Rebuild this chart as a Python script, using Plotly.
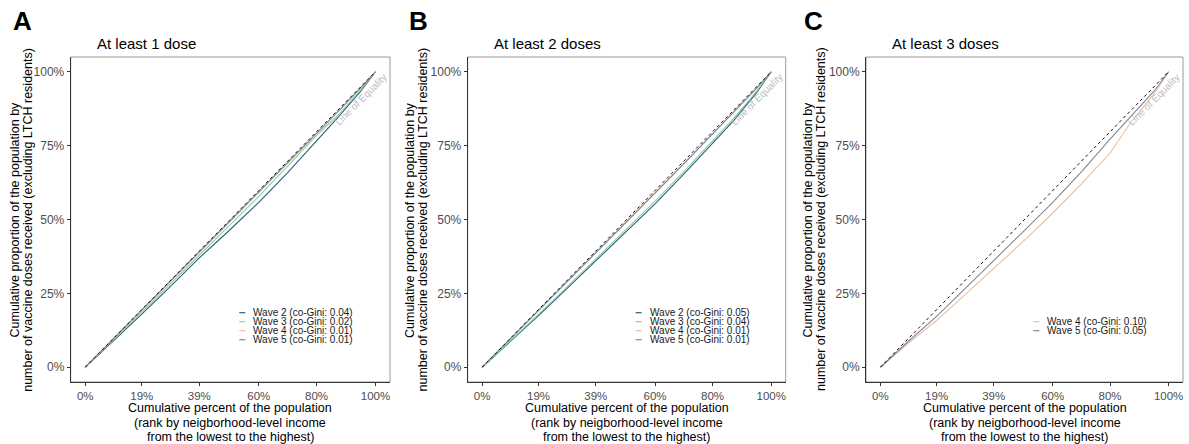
import plotly.graph_objects as go

# ---------------- data ----------------
x_pop = [0, 0.097, 0.195, 0.293, 0.393, 0.495, 0.598, 0.699, 0.797, 0.87, 0.95, 1.0]

a_wave2 = [0, 0.088, 0.180, 0.273, 0.370, 0.462, 0.558, 0.660, 0.765, 0.845, 0.935, 1.0]
a_wave3 = [0, 0.092, 0.186, 0.282, 0.380, 0.478, 0.578, 0.682, 0.785, 0.852, 0.940, 1.0]
a_wave4 = [0, 0.095, 0.192, 0.289, 0.388, 0.489, 0.591, 0.692, 0.791, 0.865, 0.947, 1.0]
a_wave5 = [0, 0.096, 0.193, 0.290, 0.389, 0.490, 0.592, 0.693, 0.791, 0.864, 0.946, 1.0]

b_wave2 = [0, 0.086, 0.175, 0.266, 0.360, 0.455, 0.553, 0.655, 0.758, 0.835, 0.930, 1.0]
b_wave3 = [0, 0.088, 0.179, 0.271, 0.366, 0.462, 0.562, 0.664, 0.768, 0.842, 0.935, 1.0]
b_wave4 = [0, 0.095, 0.192, 0.289, 0.388, 0.489, 0.590, 0.691, 0.790, 0.864, 0.946, 1.0]
b_wave5 = [0, 0.095, 0.191, 0.288, 0.387, 0.488, 0.589, 0.690, 0.789, 0.863, 0.945, 1.0]

c_wave4 = [0, 0.082, 0.158, 0.245, 0.335, 0.425, 0.522, 0.622, 0.725, 0.830, 0.925, 1.0]
c_wave5 = [0, 0.088, 0.172, 0.265, 0.362, 0.458, 0.558, 0.663, 0.772, 0.850, 0.935, 1.0]

equality = [0, 1]

a_labels = ["Wave 2 (co-Gini: 0.04)", "Wave 3 (co-Gini: 0.02)", "Wave 4 (co-Gini: 0.01)", "Wave 5 (co-Gini: 0.01)"]
b_labels = ["Wave 2 (co-Gini: 0.05)", "Wave 3 (co-Gini: 0.04)", "Wave 4 (co-Gini: 0.01)", "Wave 5 (co-Gini: 0.01)"]
c_labels = ["Wave 4 (co-Gini: 0.10)", "Wave 5 (co-Gini: 0.05)"]

panel_titles = ["At least 1 dose", "At least 2 doses", "At least 3 doses"]
panel_letters = ["A", "B", "C"]

x_tickvals = [0, 0.195, 0.393, 0.598, 0.797, 1.0]
x_ticktext = ["0%", "19%", "39%", "60%", "80%", "100%"]
y_tickvals = [0, 0.25, 0.5, 0.75, 1.0]
y_ticktext = ["0%", "25%", "50%", "75%", "100%"]

x_title_lines = ["Cumulative percent of the population",
                 "(rank by neigborhood-level income",
                 "from the lowest to the highest)"]
y_title_lines = ["Cumulative proportion of the population by",
                 "number of vaccine doses received (excluding LTCH residents)"]

# ---------------- styles ----------------
W, H = 1189, 444
FONT = "Arial, Liberation Sans, Helvetica, sans-serif"
col = {"w2": "#2F5D7C", "w3": "#86D0AC", "w4": "#EDBE9C", "w5": "#7E8898"}

frames_px = [(70.7, 390.0), (467.7, 785.7), (866.0, 1183.0)]
frame_top, frame_bot = 57.0, 382.0
ytitle_x = [(14.0, 27.3), (409.5, 422.0), (807.0, 820.5)]
xtitle_y = [408.0, 422.5, 437.0]
title_x = [95.0, 491.7, 890.0]
letter_x = [22.0, 418.0, 813.0]

panels = [
    [("w2", a_wave2, a_labels[0]), ("w3", a_wave3, a_labels[1]), ("w4", a_wave4, a_labels[2]), ("w5", a_wave5, a_labels[3])],
    [("w2", b_wave2, b_labels[0]), ("w3", b_wave3, b_labels[1]), ("w4", b_wave4, b_labels[2]), ("w5", b_wave5, b_labels[3])],
    [("w4", c_wave4, c_labels[0]), ("w5", c_wave5, c_labels[1])],
]

fig = go.Figure()
layout = dict(
    width=W, height=H, margin=dict(l=0, r=0, t=0, b=0),
    paper_bgcolor="white", plot_bgcolor="white", showlegend=False,
    font=dict(family=FONT, color="#000000"),
)
annotations = []
shapes = []

for i, series in enumerate(panels):
    ax = "" if i == 0 else str(i + 1)
    xa, ya = "x" + ax, "y" + ax
    l, r = frames_px[i]
    dom_x = [l / W, r / W]
    dom_y = [(H - frame_bot) / H, (H - frame_top) / H]
    layout["xaxis" + ax] = dict(
        domain=dom_x, range=[-0.05, 1.05], anchor=ya,
        tickvals=x_tickvals, ticktext=x_ticktext,
        showgrid=False, zeroline=False,
        showline=True, linecolor="#333333", linewidth=1,
        ticks="outside", ticklen=3, tickcolor="#333333",
        tickfont=dict(size=11.5, color="#4D4D4D", family=FONT),
    )
    layout["yaxis" + ax] = dict(
        domain=dom_y, range=[-0.05, 1.05], anchor=xa,
        tickvals=y_tickvals, ticktext=y_ticktext,
        showgrid=False, zeroline=False,
        showline=True, linecolor="#333333", linewidth=1,
        ticks="outside", ticklen=3, tickcolor="#333333",
        tickfont=dict(size=12, color="#4D4D4D", family=FONT),
    )
    # frame
    shapes.append(dict(type="rect", xref=xa + " domain", yref=ya + " domain",
                       x0=0, x1=1, y0=0, y1=1, line=dict(color="#9A9A9A", width=1),
                       layer="below"))
    # series
    for key, vals, lab in series:
        fig.add_trace(go.Scatter(x=x_pop, y=vals, mode="lines", name=lab,
                                 line=dict(color=col[key], width=1.1),
                                 xaxis=xa, yaxis=ya, showlegend=False))
    # equality line
    fig.add_trace(go.Scatter(x=equality, y=equality, mode="lines", name="Line of Equality",
                             line=dict(color="#111111", width=1, dash="3px,3px"),
                             xaxis=xa, yaxis=ya, showlegend=False))
    annotations.append(dict(x=0.95, y=0.905, xref=xa, yref=ya, text="Line of Equality",
                            showarrow=False, textangle=-45,
                            font=dict(size=10, color="#BDBDBD", family=FONT)))
    # custom legend (inside panel)
    n = len(series)
    rows_y = [312.7, 321.7, 330.7, 339.7]
    start = 0 if n == 4 else 1
    for j, (key, vals, lab) in enumerate(series):
        py = rows_y[start + j]
        yd = (frame_bot - py) / (frame_bot - frame_top)
        shapes.append(dict(type="line", xref=xa + " domain", yref=ya + " domain",
                           x0=0.528, x1=0.547, y0=yd, y1=yd,
                           line=dict(color=col[key], width=1.2)))
        annotations.append(dict(x=0.566, y=yd, xref=xa + " domain", yref=ya + " domain",
                                text=lab, showarrow=False, xanchor="left", yanchor="middle",
                                font=dict(size=10, color="#1A1A1A", family=FONT)))
    # axis titles (one annotation per line for tight line spacing)
    for k, line in enumerate(x_title_lines):
        annotations.append(dict(x=(l + r) / 2 / W, y=(H - xtitle_y[k]) / H, xref="paper", yref="paper",
                                text=line, showarrow=False, xanchor="center", yanchor="middle",
                                font=dict(size=12.5, color="#000000", family=FONT)))
    for k, line in enumerate(y_title_lines):
        annotations.append(dict(x=ytitle_x[i][k] / W, y=(H - 219.5) / H, xref="paper", yref="paper",
                                text=line, showarrow=False, textangle=-90,
                                xanchor="center", yanchor="middle",
                                font=dict(size=12.5, color="#000000", family=FONT)))
    # panel title and letter
    annotations.append(dict(x=title_x[i] / W, y=(H - 43) / H, xref="paper", yref="paper",
                            text=panel_titles[i], showarrow=False, xanchor="left", yanchor="middle",
                            font=dict(size=15, color="#000000", family=FONT)))
    annotations.append(dict(x=letter_x[i] / W, y=(H - 21) / H, xref="paper", yref="paper",
                            text="<b>" + panel_letters[i] + "</b>", showarrow=False,
                            xanchor="center", yanchor="middle",
                            font=dict(size=26, color="#000000", family=FONT)))

layout["annotations"] = annotations
layout["shapes"] = shapes
fig.update_layout(**layout)
fig.write_html("out.html", config={"displayModeBar": False},
               post_script="document.body.style.margin='0px';document.body.style.overflow='hidden';")
